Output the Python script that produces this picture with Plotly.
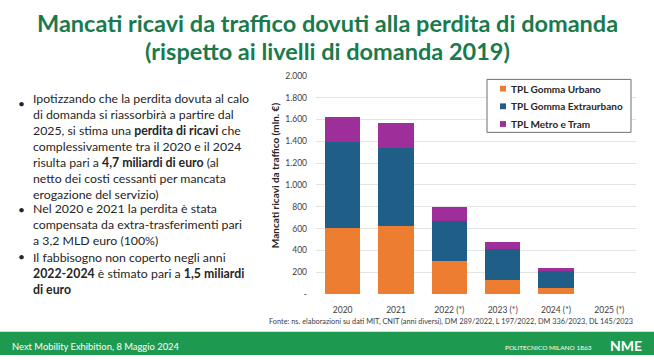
import plotly.graph_objects as go

categories = ["2020", "2021", "2022 (*)", "2023 (*)", "2024 (*)", "2025 (*)"]
urbano = [608, 623, 303, 133, 56, 0]
extraurbano = [786, 718, 370, 282, 163, 0]
metro = [229, 229, 125, 66, 18, 0]
series_names = ["TPL Gomma Urbano", "TPL Gomma Extraurbano", "TPL Metro e Tram"]
tick_vals = [0, 200, 400, 600, 800, 1000, 1200, 1400, 1600, 1800, 2000]
tick_text = ["-", "200", "400", "600", "800", "1.000", "1.200", "1.400", "1.600", "1.800", "2.000"]

colors = ["#ED7D31", "#1F5F87", "#9E2E9A"]
W, H = 654, 360

fig = go.Figure()
for name, vals, col in zip(series_names, [urbano, extraurbano, metro], colors):
    fig.add_trace(go.Bar(x=categories, y=vals, name=name, showlegend=False,
                         marker=dict(color=col, line=dict(width=0))))

def px_x(x):
    return x / W

def px_y(y):
    return 1 - y / H

FONT = "Lato"
TXT = "#262626"
ann = []
shapes = []
# Title
ann.append(dict(text="<b>Mancati ricavi da traffico dovuti alla perdita di domanda</b>", x=px_x(327), y=px_y(19),
                font=dict(size=23.5, color="#1A7A4C", family=FONT)))
ann.append(dict(text="<b>(rispetto ai livelli di domanda 2019)</b>", x=px_x(327), y=px_y(47),
                font=dict(size=23.5, color="#1A7A4C", family=FONT)))

# Bullets (one block per bullet)
bullets = [
    (146, 101, ["Ipotizzando che la perdita dovuta al calo",
                "di domanda si riassorbirà a partire dal",
                "2025, si stima una <b>perdita di ricavi</b> che",
                "complessivamente tra il 2020 e il 2024",
                "risulta pari a <b>4,7 miliardi di euro</b> (al",
                "netto dei costi cessanti per mancata",
                "erogazione del servizio)"]),
    (226, 210, ["Nel 2020 e 2021 la perdita è stata",
                "compensata da extra-trasferimenti pari",
                "a 3,2 MLD euro (100%)"]),
    (276, 259, ["Il fabbisogno non coperto negli anni",
                "<b>2022-2024</b> è stimato pari a <b>1,5 miliardi</b>",
                "<b>di euro</b>"]),
]
for yc, yb, lines in bullets:
    ann.append(dict(text="•", x=px_x(22), y=px_y(yb), xanchor="center",
                    font=dict(size=12, color=TXT, family=FONT)))
    ann.append(dict(text="<br>".join(lines), x=px_x(31), y=px_y(yc), xanchor="left", align="left",
                    font=dict(size=12.3, color=TXT, family=FONT)))

# Y axis title
ann.append(dict(text="<b>Mancati ricavi da traffico (mln. €)</b>", x=px_x(275), y=px_y(175), textangle=-90,
                font=dict(size=10, color=TXT, family=FONT)))
# Legend box (drawn)
shapes.append(dict(type="rect", xref="paper", yref="paper", x0=px_x(487), x1=px_x(631), y0=px_y(131), y1=px_y(76.5),
                   fillcolor="white", line=dict(color="#6E6E6E", width=1)))
for i, (name, col) in enumerate(zip(series_names, colors)):
    yy = 86 + 18.2 * i
    shapes.append(dict(type="rect", xref="paper", yref="paper", x0=px_x(500), x1=px_x(506),
                       y0=px_y(yy + 3), y1=px_y(yy - 3), fillcolor=col, line=dict(width=0)))
    ann.append(dict(text="<b>" + name + "</b>", x=px_x(508.5), y=px_y(yy), xanchor="left",
                    font=dict(size=10, color=TXT, family=FONT)))
# Source
ann.append(dict(text="Fonte: ns. elaborazioni su dati MIT, CNIT (anni diversi), DM 289/2022, L 197/2022, DM 336/2023, DL 145/2023",
                x=px_x(267), y=px_y(326), xanchor="left", font=dict(size=7.35, color="#404040", family=FONT)))
# Footer
shapes.append(dict(type="rect", xref="paper", yref="paper", x0=0, x1=1, y0=0, y1=px_y(336),
                   fillcolor="#1E9A50", line=dict(width=0), layer="below"))
ann.append(dict(text="Next Mobility Exhibition, 8 Maggio 2024", x=px_x(10), y=px_y(351), xanchor="left",
                font=dict(size=9.4, color="white", family=FONT)))
ann.append(dict(text="POLITECNICO MILANO 1863", x=px_x(594), y=px_y(352), xanchor="right",
                font=dict(size=6.5, color="white", family=FONT)))
ann.append(dict(text="<b>NME</b>", x=px_x(626), y=px_y(350), xanchor="center",
                font=dict(size=14, color="white", family=FONT)))

for a in ann:
    a.setdefault("xanchor", "center")
    a.update(xref="paper", yref="paper", yanchor="middle", showarrow=False)

fig.update_layout(
    width=W, height=H,
    margin=dict(l=0, r=0, t=0, b=0),
    paper_bgcolor="white", plot_bgcolor="white",
    barmode="stack", bargap=0.34,
    annotations=ann,
    shapes=shapes,
    showlegend=False,
    xaxis=dict(domain=[px_x(316), px_x(636)], showgrid=False, showline=False, ticks="",
               tickfont=dict(size=8.5, color="#404040", family=FONT), ticklabelstandoff=9),
    yaxis=dict(domain=[px_y(297.3), px_y(72.7)], range=[0, 2000], tickvals=tick_vals, ticktext=tick_text,
               showgrid=True, gridcolor="#E4E4E4", gridwidth=1, zeroline=False, showline=False,
               tickfont=dict(size=8.5, color="#404040", family=FONT), ticklabelstandoff=8),
)
fig.write_html("out.html", config={"displayModeBar": False},
               post_script="document.body.style.margin='0';document.body.style.overflow='hidden';")
